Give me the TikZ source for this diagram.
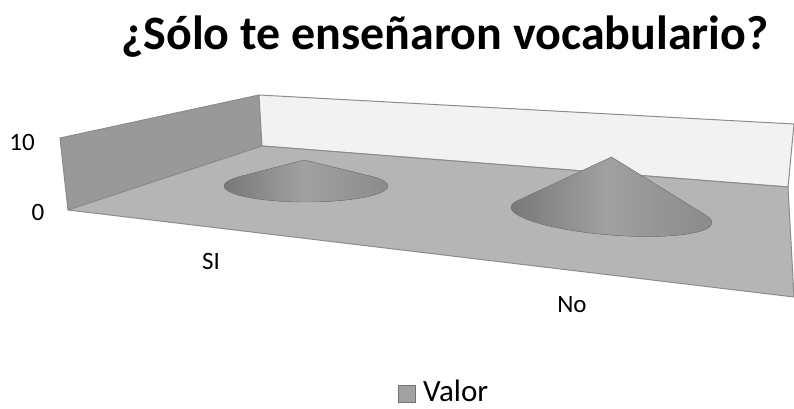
\documentclass[tikz,border=0pt]{standalone}
\usepackage{fontspec}
\setmainfont{Carlito}
\usetikzlibrary{positioning}

\begin{document}
\begin{tikzpicture}[x=1pt,y=1pt,
  wall/.style={draw=black!45,line width=1pt,line join=round},
  cone/.style={draw=black!50,line width=0.4pt,left color=black!55,right color=black!46,middle color=black!37},
  axislabel/.style={font=\fontsize{25}{28}\selectfont,inner sep=0pt}]
\useasboundingbox (0,0) rectangle (794,409);
% side wall, back wall, floor
\filldraw [wall,fill=black!40] (60,271) -- (259,314) -- (262,263) -- (68,199) -- cycle;
\filldraw [wall,fill=black!5] (259,314) -- (794,285) -- (788,222) -- (262,263) -- cycle;
\filldraw [wall,fill=black!29] (68,199) -- (262,263) -- (788,222) -- (794,112) -- cycle;
% cones
\begin{scope}[shift={(306,223)}]
\filldraw [cone] (-2,26) -- (142:82 and 16) arc [start angle=142,end angle=398,x radius=82,y radius=16] -- cycle;
\end{scope}
\begin{scope}[shift={(611.5,194)},rotate=-4.55]
\filldraw [cone] (-4.6,57.8) -- (160.65:100.8 and 20) arc [start angle=160.65,end angle=381.15,x radius=100.8,y radius=20] -- cycle;
\end{scope}
% labels
\node [font=\bfseries\fontsize{48}{52}\selectfont] (title) at (445,372) {¿Sólo te enseñaron vocabulario?};
\node [axislabel] (ten) at (22,267) {10};
\node [axislabel] (zero) at (38,197) {0};
\node [axislabel] (si) at (211,148) {SI};
\node [axislabel] (no) at (572,104) {No};
% legend
\node [draw=black!55,fill=black!37,minimum size=17pt,inner sep=0pt] (key) at (407,15) {};
\node [anchor=base west,inner sep=0pt,font=\fontsize{31}{34}\selectfont] (valor) at (423,7) {Valor};
\end{tikzpicture}
\end{document}
